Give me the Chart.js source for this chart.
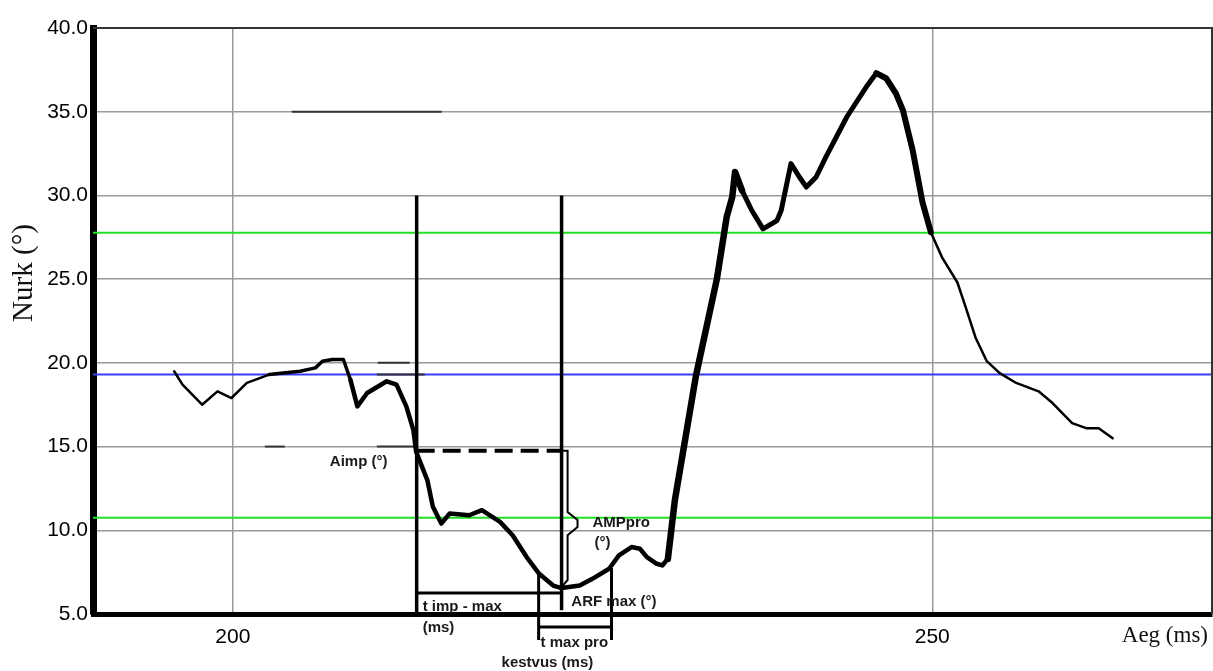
<!DOCTYPE html>
<html>
<head>
<meta charset="utf-8">
<title>Nurk</title>
<script src="https://cdn.jsdelivr.net/npm/chart.js@4.4.1/dist/chart.umd.min.js"></script>
<style>
    html, body { margin: 0; padding: 0; background: #fff; }
    #wrap { width: 1213px; height: 671px; position: relative; }
</style>
</head>
<body>
<div id="wrap"><canvas id="angleChart"></canvas></div>
<script>
// Knee angle trace: time (ms) and angle (deg)
const timeMs = [
    195.8, 196.4, 197.8, 198.9, 199.9, 201.0, 202.6, 204.8, 205.9, 206.4,
    207.1, 207.9, 208.4, 208.9, 209.6, 211.0, 211.7, 212.4, 212.9, 213.1,
    213.9, 214.3, 214.9, 215.5, 216.9, 217.8, 219.1, 220.0, 221.0, 221.9,
    222.9, 223.5, 224.8, 225.7, 226.9, 227.6, 228.5, 229.1, 229.6, 230.3,
    230.7, 231.1, 231.6, 233.1, 234.6, 235.3, 235.7, 235.9, 236.4, 237.1,
    237.9, 238.9, 239.2, 239.9, 240.5, 241.0, 241.7, 242.4, 243.9, 245.3,
    246.0, 246.7, 247.4, 247.9, 248.6, 249.3, 249.9, 250.7, 251.8, 252.4,
    253.1, 253.9, 254.8, 256.0, 257.6, 258.6, 260.0, 261.0, 261.9, 262.9
];
const angleDeg = [
    19.5, 18.7, 17.5, 18.3, 17.9, 18.8, 19.3, 19.5, 19.7, 20.1,
    20.2, 20.2, 19.0, 17.4, 18.2, 18.9, 18.7, 17.4, 16.0, 14.7,
    13.0, 11.4, 10.4, 11.0, 10.9, 11.2, 10.5, 9.7, 8.4, 7.4,
    6.7, 6.55, 6.7, 7.1, 7.7, 8.5, 9.0, 8.9, 8.4, 8.0,
    7.9, 8.3, 11.8, 19.2, 25.0, 28.7, 29.9, 31.4, 30.3, 29.1,
    28.0, 28.5, 29.1, 31.9, 31.1, 30.5, 31.1, 32.3, 34.7, 36.5,
    37.3, 37.0, 36.1, 35.1, 32.7, 29.6, 27.8, 26.3, 24.8, 23.3,
    21.5, 20.1, 19.4, 18.8, 18.3, 17.6, 16.4, 16.1, 16.1, 15.5
];

// Axes
const xRange = [190, 270];
const xTicks = [200, 250];
const yTicks = [5, 10, 15, 20, 25, 30, 35, 40];

// Horizontal reference levels
const greenLevels = [27.77, 10.75];
const blueLevel = 19.3;

// Event markers
const tImp = 213.14;      // impact
const tMax = 223.5;       // max flexion
const aImp = 14.75;       // angle at impact
const markerTop = 30.0;
const tImpMaxLevel = 6.25;
const tMaxEnd = 5.23;
const proStart = 221.86;
const proEnd = 227.07;
const proLevel = 4.22;
const proBottom = 3.44;
const proTopLeft = 7.5;
const proTopRight = 7.74;

// AMPpro brace
const braceX = [223.5, 223.93, 223.93, 224.64, 224.64, 223.93, 223.93, 223.5];
const braceY = [14.75, 14.75, 11.09, 10.61, 10.19, 9.71, 7.03, 6.61];

// short dark strokes over grid lines
const markLevel = [35, 20, 15, 15, 19.3];
const markStart = [204.21, 210.36, 202.29, 210.29, 210.29];
const markEnd = [214.93, 212.64, 203.71, 213.0, 213.71];

const noteLabels = [
    { text: 'Aimp (°)', x: 206.93, y: 14.07 },
    { text: 'AMPpro', x: 225.71, y: 10.43 },
    { text: '(°)', x: 225.86, y: 9.24 },
    { text: 'ARF max (°)', x: 224.2, y: 5.71 },
    { text: 't imp - max', x: 213.57, y: 5.41 },
    { text: '(ms)', x: 213.57, y: 4.16 },
    { text: 't max pro', x: 222.0, y: 3.26 },
    { text: 'kestvus (ms)', x: 219.21, y: 2.07 }
];

const pts = (xs, ys) => xs.map((v, i) => ({ x: v, y: ys[i] }));
const hLine = (y, x0, x1) => [{ x: x0, y: y }, { x: x1, y: y }];
const vLine = (x, y0, y1) => [{ x: x, y: y0 }, { x: x, y: y1 }];

// line gets heavier in the swing phase
function traceWidth(t) {
    if (t < 202) return 2.5;
    if (t < 208) return 3.5;
    if (t < 231) return 4.5;
    if (t < 236) return 6.5;
    if (t < 246) return 5;
    if (t < 249.8) return 6;
    return 2.5;
}

const markerLine = (data, width, extra) => Object.assign({
    data: data,
    borderColor: '#000',
    borderWidth: width,
    pointRadius: 0,
    tension: 0,
    clip: false,
    order: 2
}, extra || {});

const datasets = [
    {
        label: 'Nurk',
        data: pts(timeMs, angleDeg),
        borderColor: '#000',
        borderWidth: 4,
        pointRadius: 0,
        tension: 0,
        borderJoinStyle: 'round',
        borderCapStyle: 'round',
        segment: { borderWidth: ctx => traceWidth(ctx.p0.parsed.x) },
        order: 1
    },
    markerLine(hLine(greenLevels[0], xRange[0], xRange[1]), 2, { borderColor: '#22e022', order: 5 }),
    markerLine(hLine(greenLevels[1], xRange[0], xRange[1]), 2, { borderColor: '#22e022', order: 5 }),
    markerLine(hLine(blueLevel, xRange[0], xRange[1]), 2, { borderColor: '#3b3bf5', order: 5 }),
    markerLine(vLine(tImp, markerTop, 5), 3.5),
    markerLine(vLine(tMax, markerTop, tMaxEnd), 3.5),
    markerLine(hLine(aImp, tImp, tMax), 4, { borderDash: [18, 8] }),
    markerLine(pts(braceX, braceY), 2),
    markerLine(hLine(tImpMaxLevel, tImp, tMax), 3),
    markerLine(vLine(proStart, proTopLeft, proBottom), 3),
    markerLine(vLine(proEnd, proTopRight, proBottom), 3),
    markerLine(hLine(proLevel, proStart, proEnd), 3)
];

markLevel.forEach((lv, i) => {
    datasets.push(markerLine(hLine(lv, markStart[i], markEnd[i]), 2, { borderColor: '#333', order: 4 }));
});

const textPlugin = {
    id: 'noteText',
    afterDatasetsDraw(chart) {
        const { ctx, chartArea, scales: { x, y } } = chart;
        ctx.save();

        // thin frame on top and right
        ctx.strokeStyle = '#333';
        ctx.lineWidth = 2;
        ctx.beginPath();
        ctx.moveTo(chartArea.left, chartArea.top);
        ctx.lineTo(chartArea.right, chartArea.top);
        ctx.lineTo(chartArea.right, chartArea.bottom);
        ctx.stroke();

        ctx.fillStyle = '#1a1a1a';
        ctx.font = 'bold 15px "Liberation Sans", Arial, sans-serif';
        ctx.textAlign = 'left';
        ctx.textBaseline = 'middle';
        noteLabels.forEach(n => {
            ctx.fillText(n.text, x.getPixelForValue(n.x), y.getPixelForValue(n.y));
        });

        // axis titles
        ctx.fillStyle = '#111';
        ctx.font = '23px "Liberation Serif", "Times New Roman", serif';
        ctx.textAlign = 'right';
        ctx.fillText('Aeg (ms)', chartArea.right - 4, 636);

        ctx.translate(24, 273);
        ctx.rotate(-Math.PI / 2);
        ctx.textAlign = 'center';
        ctx.font = '29px "Liberation Serif", "Times New Roman", serif';
        ctx.fillText('Nurk (°)', 0, 0);
        ctx.restore();
    }
};

new Chart(document.getElementById('angleChart'), {
    type: 'line',
    data: { datasets: datasets },
    options: {
        responsive: true,
        maintainAspectRatio: false,
        animation: false,
        events: [],
        layout: { padding: { top: 28, right: 1, left: 0, bottom: 0 } },
        plugins: {
            legend: { display: false },
            tooltip: { enabled: false }
        },
        scales: {
            x: {
                type: 'linear',
                min: xRange[0],
                max: xRange[1],
                afterBuildTicks: scale => { scale.ticks = xTicks.map(v => ({ value: v })); },
                afterFit: scale => { scale.height = 57; },
                ticks: {
                    color: '#000',
                    padding: 11,
                    maxRotation: 0,
                    font: { family: '"Liberation Sans", Arial, sans-serif', size: 21 }
                },
                grid: { color: '#9a9a9a', lineWidth: 1.5, drawTicks: false },
                border: { color: '#000', width: 5 }
            },
            y: {
                min: yTicks[0],
                max: yTicks[yTicks.length - 1],
                afterBuildTicks: scale => { scale.ticks = yTicks.map(v => ({ value: v })); },
                afterFit: scale => { scale.width = 93; },
                ticks: {
                    color: '#000',
                    padding: 5,
                    callback: v => v.toFixed(1),
                    font: { family: '"Liberation Sans", Arial, sans-serif', size: 21 }
                },
                grid: { color: '#9a9a9a', lineWidth: 1.5, drawTicks: false },
                border: { color: '#000', width: 7 }
            }
        }
    },
    plugins: [textPlugin]
});
</script>
</body>
</html>
